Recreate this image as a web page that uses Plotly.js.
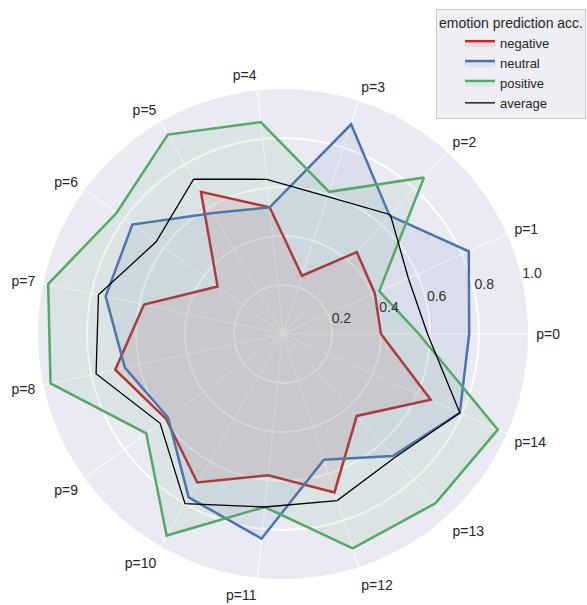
<!DOCTYPE html>
<html>
<head>
<meta charset="utf-8">
<script src="https://cdn.plot.ly/plotly-3.0.1.min.js"></script>
<style>
  html, body { margin: 0; padding: 0; background: #ffffff; }
  #chart { width: 587px; height: 605px; }
</style>
</head>
<body>
<div id="chart"></div>
<script>
const categories = ["p=0","p=1","p=2","p=3","p=4","p=5","p=6","p=7","p=8","p=9","p=10","p=11","p=12","p=13","p=14"];
const negative = [0.40, 0.41, 0.45, 0.25, 0.52, 0.67, 0.33, 0.58, 0.70, 0.59, 0.70, 0.58, 0.68, 0.45, 0.66];
const neutral  = [0.76, 0.83, 0.65, 0.90, 0.52, 0.57, 0.76, 0.74, 0.66, 0.58, 0.77, 0.84, 0.54, 0.67, 0.79];
const positive = [0.555, 0.43, 0.86, 0.61, 0.87, 0.94, 0.84, 0.98, 0.97, 0.69, 0.95, 0.71, 0.92, 0.93, 0.96];
const average  = [0.59, 0.56, 0.655, 0.59, 0.635, 0.73, 0.64, 0.77, 0.78, 0.62, 0.80, 0.71, 0.715, 0.68, 0.79];
const radialTicks = [0.2, 0.4, 0.6, 0.8, 1.0];
const radialTickText = ["0.2", "0.4", "0.6", "0.8", "1.0"];

function closed(a) { return a.concat([a[0]]); }

const series = [
  {name: "negative", values: negative, color: "#BE2A2E", fill: "rgba(190,42,46,0.1)", width: 2.5},
  {name: "neutral",  values: neutral,  color: "#4C72B0", fill: "rgba(76,114,176,0.1)", width: 2.5},
  {name: "positive", values: positive, color: "#55A868", fill: "rgba(85,168,104,0.1)", width: 2.5},
  {name: "average",  values: average,  color: "#000000", fill: null, width: 1.3}
];

const traces = series.map(s => ({
  type: "scatterpolar",
  subplot: "polar",
  mode: "lines",
  name: s.name,
  r: closed(s.values),
  theta: closed(categories),
  line: {color: s.color, width: s.width},
  fill: s.fill ? "toself" : "none",
  fillcolor: s.fill || undefined,
  hoverinfo: "skip"
}));

// radial tick labels, drawn horizontally on an overlaid (hidden) polar subplot with the same centre and scale
const labelAngle = 13.5;
const labelOffset = 0.045;
traces.push({
  type: "scatterpolar",
  subplot: "polar2",
  mode: "text",
  r: radialTicks.map(v => v + labelOffset),
  theta: radialTicks.map(() => labelAngle),
  text: radialTickText,
  textposition: "middle center",
  textfont: {size: 14, color: "#333333", family: "Liberation Sans, Arial, sans-serif"},
  cliponaxis: false,
  showlegend: false,
  hoverinfo: "skip"
});

const W = 587, H = 605, cx = 283, cy = 334, R = 245, ext = 1.1;
const dom = {x: [(cx - R) / W, (cx + R) / W], y: [1 - (cy + R) / H, 1 - (cy - R) / H]};
const dom2 = {x: [(cx - R * ext) / W, (cx + R * ext) / W], y: [1 - (cy + R * ext) / H, 1 - (cy - R * ext) / H]};

const layout = {
  width: W, height: H,
  margin: {l: 0, r: 0, t: 0, b: 0},
  paper_bgcolor: "#ffffff",
  font: {family: "Liberation Sans, Arial, sans-serif", size: 14, color: "#262626"},
  showlegend: true,
  legend: {
    x: 436/587, y: 1 - 9/605, xanchor: "left", yanchor: "top",
    bgcolor: "rgba(238,238,244,1)",
    bordercolor: "#cccccc", borderwidth: 1,
    font: {size: 13, color: "#262626"},
    title: {text: "emotion prediction acc.", side: "top center", font: {size: 14, color: "#262626"}},
    indentation: 23,
    tracegroupgap: 0
  },
  polar: {
    domain: dom,
    bgcolor: "#EAEAF2",
    radialaxis: {
      range: [0, 1],
      tickvals: radialTicks,
      ticktext: radialTickText,
      showticklabels: false,
      showline: false,
      ticks: "",
      gridcolor: "#ffffff",
      gridwidth: 2
    },
    angularaxis: {
      type: "category",
      categoryarray: categories,
      direction: "counterclockwise",
      rotation: 0,
      showline: false,
      ticks: "outside",
      ticklen: 5,
      tickcolor: "rgba(0,0,0,0)",
      gridcolor: "#ffffff",
      gridwidth: 1,
      tickfont: {size: 14, color: "#262626"}
    }
  },
  polar2: {
    domain: dom2,
    bgcolor: "rgba(0,0,0,0)",
    radialaxis: {range: [0, ext], visible: false, showgrid: false},
    angularaxis: {visible: false, showgrid: false, direction: "counterclockwise", rotation: 0}
  }
};

Plotly.newPlot("chart", traces, layout, {displayModeBar: false, staticPlot: true});
</script>
</body>
</html>
